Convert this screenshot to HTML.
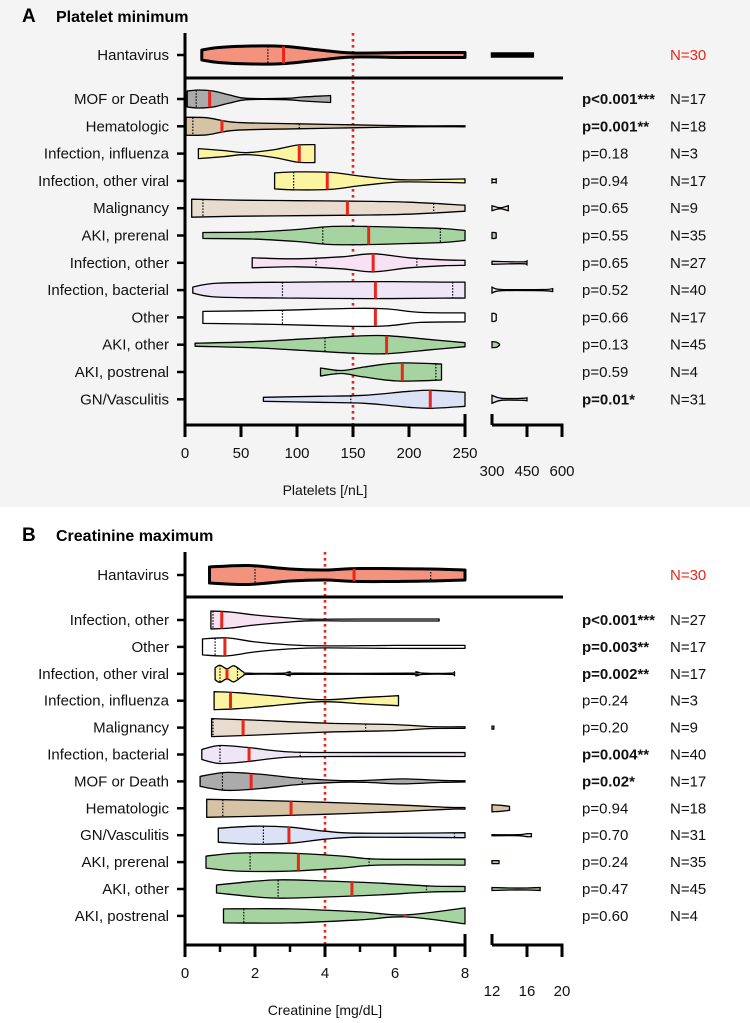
<!DOCTYPE html>
<html><head><meta charset="utf-8"><style>
html,body{margin:0;padding:0;background:#fff}
svg text{font-family:"Liberation Sans",Arial,sans-serif}
</style></head><body>
<svg id="chart" width="750" height="1018" viewBox="0 0 750 1018" xmlns="http://www.w3.org/2000/svg">
<rect x="0" y="0" width="750" height="507" fill="#f4f4f4"/>
<text x="22" y="22" font-size="19" font-weight="bold">A</text>
<text x="56" y="22" font-size="16" font-weight="bold">Platelet minimum</text>
<text x="22" y="541" font-size="19" font-weight="bold">B</text>
<text x="56" y="541" font-size="16" font-weight="bold">Creatinine maximum</text>
<g id="gA"></g>
<g id="gB"></g>
</svg>
<script>
// ---------- Panel A data (platelets /nL) ----------
const labelsA=["Hantavirus","MOF or Death","Hematologic","Infection, influenza","Infection, other viral","Malignancy","AKI, prerenal","Infection, other","Infection, bacterial","Other","AKI, other","AKI, postrenal","GN/Vasculitis"];
const pA=["","p<0.001***","p=0.001**","p=0.18","p=0.94","p=0.65","p=0.55","p=0.65","p=0.52","p=0.66","p=0.13","p=0.59","p=0.01*"];
const boldA=[0,1,1,0,0,0,0,0,0,0,0,0,1];
const nA=[30,17,18,3,17,9,35,27,40,17,45,4,31];
const medA=[88,22,33,102,127,145,164,168,170,170,180,194,219];
const q1A=[74,10,7,null,97,16,123,117,87,87,125,135,148];
const q3A=[null,null,102,null,null,222,228,207,239,null,null,224,null];
const profA=[
 [[15,5],[30,7.5],[60,9],[90,8.5],[120,5],[150,2],[200,2.5],[250,2.5]],
 [[2,8],[12,9],[25,8],[40,4],[55,0.7],[90,0.7],[105,2],[130,3.5]],
 [[1,9],[20,8.5],[45,4],[100,2.5],[150,1.5],[200,0.5],[250,0.5]],
 [[12,5],[35,3],[55,1],[80,4],[100,8.5],[116,9]],
 [[80,8],[100,9],[130,8.5],[155,5],[180,2],[200,1],[250,2]],
 [[6,9],[50,8],[100,7.5],[150,7],[200,6],[250,3]],
 [[16,3],[60,3.5],[100,6],[130,9],[165,9],[200,8],[230,7],[250,5]],
 [[60,5],[100,4],[140,6],[168,9],[200,5],[230,3],[250,2.5]],
 [[7,3],[30,7],[100,8],[170,8.5],[230,8],[250,8]],
 [[16,6],[80,7],[150,9],[180,8.5],[210,5],[250,4.5]],
 [[9,1.5],[60,3],[110,6],[150,8.5],[180,9],[220,5],[250,2]],
 [[121,4],[140,1.5],[160,5],[190,9],[229,8]],
 [[70,2],[120,3],[160,4],[200,8],[220,9],[250,7]]
];
const extA=[
 [[300,1.5],[400,1.5],[475,1.5]],null,null,null,
 [[300,2],[310,1.5],[318,2]],
 [[300,2.5],[335,0.5],[370,2.5]],
 [[300,3],[310,3],[318,2.5]],
 [[300,1.5],[380,1],[440,1],[450,2]],
 [[300,3],[340,0.6],[520,0.6],[560,1.5]],
 [[300,4],[310,4],[318,3]],
 [[300,3],[320,2.5],[332,0.5]],
 null,
 [[300,4],[340,1],[430,1],[450,1.5]]
];
const fillsA=["#f4937d","#ababab","#d6c2a4","#fbf5a2","#fbf5a2","#e7dccd","#a6d4a0","#f6e2f2","#eee6f6","#ffffff","#a6d4a0","#a6d4a0","#dbe2f6"];
const ticksA=[0,50,100,150,200,250];
const ticksA2=[300,450,600];

// ---------- Panel B data (creatinine mg/dL) ----------
const labelsB=["Hantavirus","Infection, other","Other","Infection, other viral","Infection, influenza","Malignancy","Infection, bacterial","MOF or Death","Hematologic","GN/Vasculitis","AKI, prerenal","AKI, other","AKI, postrenal"];
const pB=["","p<0.001***","p=0.003**","p=0.002**","p=0.24","p=0.20","p=0.004**","p=0.02*","p=0.94","p=0.70","p=0.24","p=0.47","p=0.60"];
const boldB=[0,1,1,1,0,0,1,1,0,0,0,0,0];
const nB=[30,27,17,17,3,9,40,17,18,31,35,45,4];
const medB=[4.83,1.05,1.14,1.2,1.3,1.66,1.83,1.89,3.03,2.97,3.24,4.77,6.29];
const q1B=[2.0,0.8,0.86,1.0,null,0.8,1.0,1.07,1.08,2.24,1.86,2.66,1.68];
const q3B=[7.02,null,null,1.5,null,5.16,3.29,3.35,null,7.7,5.26,6.9,null];
const profB=[
 [[0.7,8],[1.8,9.5],[3,6],[4,5],[5,6.5],[7,6],[8,5]],
 [[0.74,9],[1.3,8],[2,5],[3,2],[3.6,0.8],[5,1],[7.26,1]],
 [[0.5,8],[1.2,9],[2,5],[3,2],[4,1],[6,1.5],[8,1.5]],
 [[0.86,6],[1.0,8.5],[1.2,5],[1.4,8],[1.66,2],[1.8,0.6],[2.8,0.6],[3.0,2],[3.2,0.6],[6.4,0.6],[6.6,2],[6.8,0.6],[7.6,0.6],[7.7,2]],
 [[0.83,9],[1.5,8],[2.5,5],[3.9,1],[5,3],[6.1,5]],
 [[0.76,9],[2,7.5],[4,4.5],[6,3],[7,1],[8,0.8]],
 [[0.48,5],[1,9],[1.8,7],[2.8,3],[4,2],[8,2]],
 [[0.43,5],[1.2,9],[2.2,7],[3.3,3],[4.5,0.8],[5.2,1],[6.2,2.5],[7.3,1],[8,0.6]],
 [[0.62,9],[2,8],[4,6],[6,3.5],[7.5,1],[8,0.8]],
 [[0.95,7],[2,9],[3,8],[4,4],[5,2],[8,2.5]],
 [[0.6,6],[1.5,9],[3,9],[4.5,6],[5.5,3],[8,3]],
 [[0.9,4],[2.5,9],[4,8],[5.5,6],[7,3],[8,2.5]],
 [[1.1,7],[3,7],[5,4],[6.3,1],[8,8]]
];
const extB=[null,null,null,null,null,
 [[12,1.5],[12.2,1.5]],null,null,
 [[12,3.5],[13,3],[14,2]],
 [[12,0.5],[15,0.5],[16,1.5],[16.5,1.5]],
 [[12,1.5],[12.8,1.5]],
 [[12,1.5],[14,1],[16,1],[17.5,1.5]],
 null];
const fillsB=["#f4937d","#f6e2f2","#ffffff","#fbf5a2","#fbf5a2","#e7dccd","#eee6f6","#ababab","#d6c2a4","#dbe2f6","#a6d4a0","#a6d4a0","#a6d4a0"];
const ticksB=[0,2,4,6,8];
const minorB=[1,3,5,7];
const ticksB2=[12,16,20];

const NS="http://www.w3.org/2000/svg";
function mk(parent,tag,attrs,text){const e=document.createElementNS(NS,tag);for(const k in attrs)e.setAttribute(k,attrs[k]);if(text!==undefined)e.textContent=text;parent.appendChild(e);return e;}
function cr(pts){
  let d="";
  for(let i=0;i<pts.length-1;i++){
    const p0=pts[Math.max(0,i-1)],p1=pts[i],p2=pts[i+1],p3=pts[Math.min(pts.length-1,i+2)];
    const c1=[p1[0]+(p2[0]-p0[0])/6,p1[1]+(p2[1]-p0[1])/6];
    const c2=[p2[0]-(p3[0]-p1[0])/6,p2[1]-(p3[1]-p1[1])/6];
    d+=` C${c1[0].toFixed(1)},${c1[1].toFixed(1)} ${c2[0].toFixed(1)},${c2[1].toFixed(1)} ${p2[0].toFixed(1)},${p2[1].toFixed(1)}`;
  }
  return d;
}
function violinPath(prof,sx,y){
  const up=prof.map(p=>[sx(p[0]),y-p[1]]);
  const lo=prof.slice().reverse().map(p=>[sx(p[0]),y+p[1]]);
  return `M${up[0][0].toFixed(1)},${up[0][1].toFixed(1)}`+cr(up)+` L${lo[0][0].toFixed(1)},${lo[0][1].toFixed(1)}`+cr(lo)+" Z";
}
function hwAt(prof,v){
  if(v<=prof[0][0])return prof[0][1];
  for(let i=0;i<prof.length-1;i++){const a=prof[i],b=prof[i+1];if(v<=b[0])return a[1]+(b[1]-a[1])*(v-a[0])/(b[0]-a[0]);}
  return prof[prof.length-1][1];
}

function panel(g,cfg){
  const {labels,ps,bolds,ns,meds,q1s,q3s,profs,exts,fills,sx,sx2,rowY,axisY,topY,sepY,refV,ticks,ticks2,minor,xTitle,max1}=cfg;
  const rl=mk(g,'line',{x1:sx(refV),x2:sx(refV),y1:topY,y2:axisY,stroke:'#e8261c','stroke-width':2.6,'stroke-dasharray':'2.6 3.4'});
  
  
  labels.forEach((lab,i)=>{
    const y=rowY(i);const hanta=i===0;
    const grp=mk(g,'g',{});
    
    
    const vp=mk(grp,'path',{d:violinPath(profs[i],sx,y),fill:fills[i],stroke:'#000','stroke-width':hanta?3:1.3,'stroke-linejoin':'round'});
    
    
    if(exts[i]){
      const ep=mk(grp,'path',{d:violinPath(exts[i],sx2,y),fill:hanta?'#000':fills[i],stroke:'#000','stroke-width':hanta?2.5:1.3});
      
      
    }
    [q1s[i],q3s[i]].forEach(q=>{ if(q===null)return; const h=hwAt(profs[i],q);
      const ql=mk(grp,'line',{x1:sx(q),x2:sx(q),y1:y-h,y2:y+h,stroke:'#000','stroke-width':1.2,'stroke-dasharray':'1.5 1.5'});
      
      
    });
    const hm=hwAt(profs[i],meds[i]);
    const ml=mk(grp,'line',{x1:sx(meds[i]),x2:sx(meds[i]),y1:y-hm,y2:y+hm,stroke:'#e8261c','stroke-width':3});
    
    
    const tk=mk(g,'line',{x1:177,x2:185,y1:y,y2:y,stroke:'#000','stroke-width':2.5});
    
    
    const lt=mk(g,'text',{x:169,y:y+5,'font-size':15,'text-anchor':'end',fill:'#111'},lab);
    
    
    if(ps[i]){const pt=mk(g,'text',{x:582,y:y+5,'font-size':15,'font-weight':bolds[i]?'bold':'normal',fill:'#111'},ps[i]);
      
      }
    const nt=mk(g,'text',{x:670,y:y+5,'font-size':15,fill:hanta?'#e8261c':'#111'},'N='+ns[i]);
    
    
  });
  const ya=mk(g,'line',{x1:185,x2:185,y1:topY,y2:axisY+1.5,stroke:'#000','stroke-width':3});
  
  
  const sep=mk(g,'line',{x1:185,x2:563,y1:sepY,y2:sepY,stroke:'#000','stroke-width':3});
  
  
  const xa=mk(g,'line',{x1:183.5,x2:sx(max1),y1:axisY,y2:axisY,stroke:'#000','stroke-width':3});
  
  
  const xa2=mk(g,'line',{x1:sx2(ticks2[0]),x2:sx2(ticks2[ticks2.length-1])+1.5,y1:axisY,y2:axisY,stroke:'#000','stroke-width':3});
  
  
  ticks.forEach((t,j)=>{const x=sx(t);const last=j===ticks.length-1;
    const tl=mk(g,'line',{x1:x,x2:x,y1:last?axisY-11:axisY,y2:axisY+12,stroke:'#000','stroke-width':3});
    
    
    const tt=mk(g,'text',{x:x,y:axisY+33,'font-size':15,'text-anchor':'middle',fill:'#111'},String(t));
    
    });
  (minor||[]).forEach(t=>{const x=sx(t);
    const ml=mk(g,'line',{x1:x,x2:x,y1:axisY,y2:axisY+7,stroke:'#000','stroke-width':2.5});
    
    });
  ticks2.forEach((t,j)=>{const x=sx2(t);
    const tl=mk(g,'line',{x1:x,x2:x,y1:j===0?axisY-11:axisY,y2:j===0?axisY:axisY+12,stroke:'#000','stroke-width':3});
    
    
    const tt=mk(g,'text',{x:x,y:axisY+51,'font-size':15,'text-anchor':'middle',fill:'#111'},String(t));
    
    });
  const xt=mk(g,'text',{x:325,y:axisY+70,'font-size':14,'text-anchor':'middle',fill:'#111'},xTitle);
  
  
}

panel(document.getElementById('gA'),{labels:labelsA,ps:pA,bolds:boldA,ns:nA,meds:medA,q1s:q1A,q3s:q3A,profs:profA,exts:extA,fills:fillsA,
  sx:v=>185+v*1.12, sx2:v=>492+(v-300)*70/300,
  rowY:i=>i===0?55:99+(i-1)*27.3, axisY:425, topY:33, sepY:78, refV:150,
  ticks:ticksA, ticks2:ticksA2, minor:null, xTitle:"Platelets [/nL]", max1:250});
panel(document.getElementById('gB'),{labels:labelsB,ps:pB,bolds:boldB,ns:nB,meds:medB,q1s:q1B,q3s:q3B,profs:profB,exts:extB,fills:fillsB,
  sx:v=>185+v*35, sx2:v=>492+(v-12)*70/8,
  rowY:i=>i===0?575:620+(i-1)*26.9, axisY:945, topY:552, sepY:597, refV:4,
  ticks:ticksB, ticks2:ticksB2, minor:minorB, xTitle:"Creatinine [mg/dL]", max1:8});
</script>
</body></html>
